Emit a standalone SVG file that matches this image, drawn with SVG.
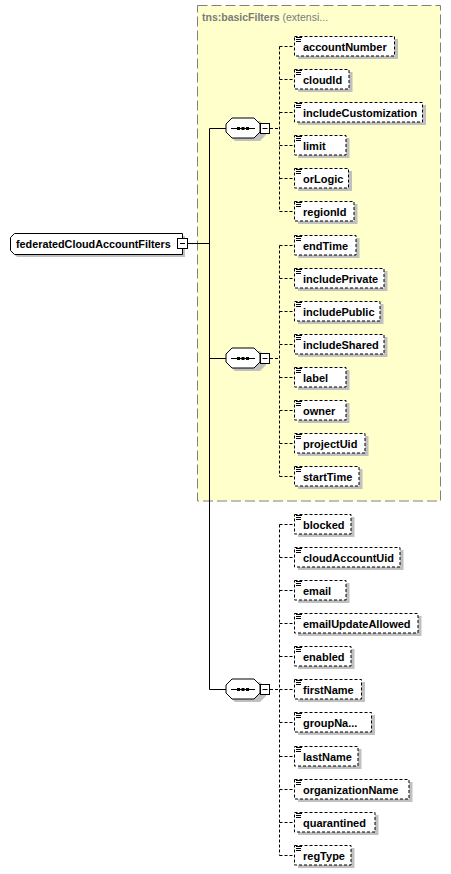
<svg xmlns="http://www.w3.org/2000/svg" width="451" height="874" viewBox="0 0 451 874">
<style>
text{font-family:"Liberation Sans",Arial,sans-serif;font-size:11px;font-weight:bold;fill:#000}
.hdr{fill:#7a7a7a;font-size:10.5px}
.hdr .n{font-weight:normal}
.shadow{fill:#c0c0c0;stroke:none}
.box{fill:#fff;stroke:#000;stroke-width:1;stroke-dasharray:3,2}
.solid{fill:#fff;stroke:#000;stroke-width:1}
.ln{stroke:#000;stroke-width:1;fill:none}
.dl{stroke:#000;stroke-width:1;fill:none;stroke-dasharray:3,2}
.ic{stroke:#000;stroke-width:1}
</style>
<defs>
<g id="icon"><line class="ic" x1="296" y1="1.5" x2="302" y2="1.5"/><line class="ic" x1="296" y1="3.5" x2="301" y2="3.5"/><line class="ic" x1="296" y1="5.5" x2="301" y2="5.5"/></g>
<g id="seq">
<polygon class="shadow" points="235,-7 260,-7 266,-1 266,7 260,13 235,13 229,7 229,-1"/>
<polygon class="solid" points="232,-10 254,-10 260,-4 260,4 254,10 232,10 226,4 226,-4"/>
<line class="ln" x1="231" y1="0.5" x2="255" y2="0.5"/>
<rect x="237" y="-1" width="3" height="3" fill="#000"/>
<rect x="241.5" y="-1" width="3" height="3" fill="#000"/>
<rect x="246" y="-1" width="3" height="3" fill="#000"/>
<rect class="solid" x="260.5" y="-4.5" width="9" height="10"/>
<line class="ln" x1="262.5" y1="0.5" x2="267.5" y2="0.5"/>
</g>
</defs>

<g id="basicFilters">
<rect x="197.5" y="5.5" width="243" height="495.5" fill="#ffffcc" stroke="#808080" stroke-width="1" stroke-dasharray="10,4"/>
<text class="hdr" x="202" y="20.5">tns:basicFilters <tspan class="n">(extensi...</tspan></text>
</g>

<g id="connectors">
<line class="ln" x1="187" y1="243.5" x2="209.5" y2="243.5"/>
<line class="ln" x1="209.5" y1="128.5" x2="209.5" y2="689.5"/>
<line class="ln" x1="209.5" y1="128.5" x2="226" y2="128.5"/>
<line class="ln" x1="209.5" y1="358.5" x2="226" y2="358.5"/>
<line class="ln" x1="209.5" y1="689.5" x2="226" y2="689.5"/>
<line class="dl" x1="270" y1="128.5" x2="279.5" y2="128.5"/>
<line class="dl" x1="279.5" y1="46.5" x2="279.5" y2="211.5"/>
<line class="dl" x1="279.5" y1="46.5" x2="294.5" y2="46.5"/>
<line class="dl" x1="279.5" y1="79.5" x2="294.5" y2="79.5"/>
<line class="dl" x1="279.5" y1="112.5" x2="294.5" y2="112.5"/>
<line class="dl" x1="279.5" y1="145.5" x2="294.5" y2="145.5"/>
<line class="dl" x1="279.5" y1="178.5" x2="294.5" y2="178.5"/>
<line class="dl" x1="279.5" y1="211.5" x2="294.5" y2="211.5"/>
<line class="dl" x1="270" y1="358.5" x2="279.5" y2="358.5"/>
<line class="dl" x1="279.5" y1="245.5" x2="279.5" y2="476.5"/>
<line class="dl" x1="279.5" y1="245.5" x2="294.5" y2="245.5"/>
<line class="dl" x1="279.5" y1="278.5" x2="294.5" y2="278.5"/>
<line class="dl" x1="279.5" y1="311.5" x2="294.5" y2="311.5"/>
<line class="dl" x1="279.5" y1="344.5" x2="294.5" y2="344.5"/>
<line class="dl" x1="279.5" y1="377.5" x2="294.5" y2="377.5"/>
<line class="dl" x1="279.5" y1="410.5" x2="294.5" y2="410.5"/>
<line class="dl" x1="279.5" y1="443.5" x2="294.5" y2="443.5"/>
<line class="dl" x1="279.5" y1="476.5" x2="294.5" y2="476.5"/>
<line class="dl" x1="270" y1="689.5" x2="279.5" y2="689.5"/>
<line class="dl" x1="279.5" y1="524.5" x2="279.5" y2="855.5"/>
<line class="dl" x1="279.5" y1="524.5" x2="294.5" y2="524.5"/>
<line class="dl" x1="279.5" y1="557.5" x2="294.5" y2="557.5"/>
<line class="dl" x1="279.5" y1="590.5" x2="294.5" y2="590.5"/>
<line class="dl" x1="279.5" y1="623.5" x2="294.5" y2="623.5"/>
<line class="dl" x1="279.5" y1="656.5" x2="294.5" y2="656.5"/>
<line class="dl" x1="279.5" y1="689.5" x2="294.5" y2="689.5"/>
<line class="dl" x1="279.5" y1="722.5" x2="294.5" y2="722.5"/>
<line class="dl" x1="279.5" y1="756.5" x2="294.5" y2="756.5"/>
<line class="dl" x1="279.5" y1="789.5" x2="294.5" y2="789.5"/>
<line class="dl" x1="279.5" y1="822.5" x2="294.5" y2="822.5"/>
<line class="dl" x1="279.5" y1="855.5" x2="294.5" y2="855.5"/>
</g>

<g id="root">
<polygon class="shadow" points="17,236 185,236 185,257 17,257 13,253 13,240"/>
<polygon class="solid" points="14.5,233.5 182.5,233.5 182.5,254.5 14.5,254.5 10.5,250.5 10.5,237.5"/>
<text x="16" y="248" style="font-size:10.8px">federatedCloudAccountFilters</text>
<rect class="solid" x="177.5" y="238.5" width="10" height="10"/>
<line class="ln" x1="180" y1="243.5" x2="185" y2="243.5"/>
</g>

<g id="seq1" transform="translate(0,128)"><use href="#seq"/></g>
<g id="seq2" transform="translate(0,358)"><use href="#seq"/></g>
<g id="seq3" transform="translate(0,689)"><use href="#seq"/></g>

<g id="accountNumber" transform="translate(0,36)"><rect class="shadow" x="298" y="3" width="100" height="20"/><rect class="box" x="294.5" y="0.5" width="100" height="19.5"/><use href="#icon"/><text x="303" y="14.5">accountNumber</text></g>
<g id="cloudId" transform="translate(0,69)"><rect class="shadow" x="298" y="3" width="54.5" height="20"/><rect class="box" x="294.5" y="0.5" width="54.5" height="19.5"/><use href="#icon"/><text x="303" y="14.5">cloudId</text></g>
<g id="includeCustomization" transform="translate(0,102)"><rect class="shadow" x="298" y="3" width="128" height="20"/><rect class="box" x="294.5" y="0.5" width="128" height="19.5"/><use href="#icon"/><text x="303" y="14.5">includeCustomization</text></g>
<g id="limit" transform="translate(0,135)"><rect class="shadow" x="298" y="3" width="51.5" height="20"/><rect class="box" x="294.5" y="0.5" width="51.5" height="19.5"/><use href="#icon"/><text x="303" y="14.5">limit</text></g>
<g id="orLogic" transform="translate(0,168)"><rect class="shadow" x="298" y="3" width="54" height="20"/><rect class="box" x="294.5" y="0.5" width="54" height="19.5"/><use href="#icon"/><text x="303" y="14.5">orLogic</text></g>
<g id="regionId" transform="translate(0,201)"><rect class="shadow" x="298" y="3" width="59.5" height="20"/><rect class="box" x="294.5" y="0.5" width="59.5" height="19.5"/><use href="#icon"/><text x="303" y="14.5">regionId</text></g>

<g id="endTime" transform="translate(0,235)"><rect class="shadow" x="298" y="3" width="61.5" height="20"/><rect class="box" x="294.5" y="0.5" width="61.5" height="19.5"/><use href="#icon"/><text x="303" y="14.5">endTime</text></g>
<g id="includePrivate" transform="translate(0,268)"><rect class="shadow" x="298" y="3" width="89.5" height="20"/><rect class="box" x="294.5" y="0.5" width="89.5" height="19.5"/><use href="#icon"/><text x="303" y="14.5">includePrivate</text></g>
<g id="includePublic" transform="translate(0,301)"><rect class="shadow" x="298" y="3" width="85.5" height="20"/><rect class="box" x="294.5" y="0.5" width="85.5" height="19.5"/><use href="#icon"/><text x="303" y="14.5">includePublic</text></g>
<g id="includeShared" transform="translate(0,334)"><rect class="shadow" x="298" y="3" width="89.5" height="20"/><rect class="box" x="294.5" y="0.5" width="89.5" height="19.5"/><use href="#icon"/><text x="303" y="14.5">includeShared</text></g>
<g id="label" transform="translate(0,367)"><rect class="shadow" x="298" y="3" width="51.5" height="20"/><rect class="box" x="294.5" y="0.5" width="51.5" height="19.5"/><use href="#icon"/><text x="303" y="14.5">label</text></g>
<g id="owner" transform="translate(0,400)"><rect class="shadow" x="298" y="3" width="51.5" height="20"/><rect class="box" x="294.5" y="0.5" width="51.5" height="19.5"/><use href="#icon"/><text x="303" y="14.5">owner</text></g>
<g id="projectUid" transform="translate(0,433)"><rect class="shadow" x="298" y="3" width="70.5" height="20"/><rect class="box" x="294.5" y="0.5" width="70.5" height="19.5"/><use href="#icon"/><text x="303" y="14.5">projectUid</text></g>
<g id="startTime" transform="translate(0,466)"><rect class="shadow" x="298" y="3" width="64.5" height="20"/><rect class="box" x="294.5" y="0.5" width="64.5" height="19.5"/><use href="#icon"/><text x="303" y="14.5">startTime</text></g>

<g id="blocked" transform="translate(0,514)"><rect class="shadow" x="298" y="3" width="56.5" height="20"/><rect class="box" x="294.5" y="0.5" width="56.5" height="19.5"/><use href="#icon"/><text x="303" y="14.5">blocked</text></g>
<g id="cloudAccountUid" transform="translate(0,547)"><rect class="shadow" x="298" y="3" width="105.5" height="20"/><rect class="box" x="294.5" y="0.5" width="105.5" height="19.5"/><use href="#icon"/><text x="303" y="14.5">cloudAccountUid</text></g>
<g id="email" transform="translate(0,580)"><rect class="shadow" x="298" y="3" width="51.5" height="20"/><rect class="box" x="294.5" y="0.5" width="51.5" height="19.5"/><use href="#icon"/><text x="303" y="14.5">email</text></g>
<g id="emailUpdateAllowed" transform="translate(0,613)"><rect class="shadow" x="298" y="3" width="123.5" height="20"/><rect class="box" x="294.5" y="0.5" width="123.5" height="19.5"/><use href="#icon"/><text x="303" y="14.5">emailUpdateAllowed</text></g>
<g id="enabled" transform="translate(0,646)"><rect class="shadow" x="298" y="3" width="56.5" height="20"/><rect class="box" x="294.5" y="0.5" width="56.5" height="19.5"/><use href="#icon"/><text x="303" y="14.5">enabled</text></g>
<g id="firstName" transform="translate(0,679)"><rect class="shadow" x="298" y="3" width="67" height="20"/><rect class="box" x="294.5" y="0.5" width="67" height="19.5"/><use href="#icon"/><text x="303" y="14.5">firstName</text></g>
<g id="groupName" transform="translate(0,712)"><rect class="shadow" x="298" y="3" width="77" height="20"/><rect class="box" x="294.5" y="0.5" width="77" height="19.5"/><use href="#icon"/><text x="303" y="14.5">groupNa...</text></g>
<g id="lastName" transform="translate(0,746)"><rect class="shadow" x="298" y="3" width="63.5" height="20"/><rect class="box" x="294.5" y="0.5" width="63.5" height="19.5"/><use href="#icon"/><text x="303" y="14.5">lastName</text></g>
<g id="organizationName" transform="translate(0,779)"><rect class="shadow" x="298" y="3" width="114.5" height="20"/><rect class="box" x="294.5" y="0.5" width="114.5" height="19.5"/><use href="#icon"/><text x="303" y="14.5">organizationName</text></g>
<g id="quarantined" transform="translate(0,812)"><rect class="shadow" x="298" y="3" width="80.5" height="20"/><rect class="box" x="294.5" y="0.5" width="80.5" height="19.5"/><use href="#icon"/><text x="303" y="14.5">quarantined</text></g>
<g id="regType" transform="translate(0,845)"><rect class="shadow" x="298" y="3" width="56.5" height="20"/><rect class="box" x="294.5" y="0.5" width="56.5" height="19.5"/><use href="#icon"/><text x="303" y="14.5">regType</text></g>
</svg>
